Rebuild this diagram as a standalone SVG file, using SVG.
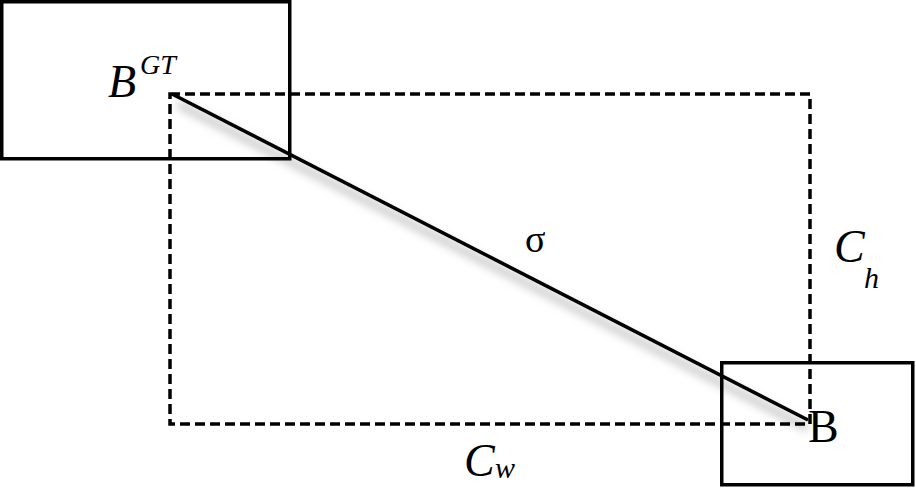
<svg xmlns="http://www.w3.org/2000/svg" width="916" height="488" viewBox="0 0 916 488">
<style>
.box{fill:none;stroke:#000;stroke-width:3.5}
.dash{fill:none;stroke:#000;stroke-width:3.5;stroke-dasharray:10 5}
.t{font-family:"Liberation Serif","DejaVu Serif",serif;fill:#000}
.i{font-style:italic}
</style>
<defs>
<filter id="sh" x="-10%" y="-20%" width="120%" height="140%">
<feGaussianBlur stdDeviation="5"/>
</filter>
</defs>
<rect width="916" height="488" fill="#fff"/>
<g id="connectors">
<line x1="178" y1="104" x2="808" y2="428" stroke="#bbb" stroke-width="6" filter="url(#sh)"/>
<rect class="dash" x="170" y="94" width="640" height="330"/>
<line x1="172" y1="94" x2="808" y2="420" stroke="#000" stroke-width="3.5"/>
</g>
<g id="bgt">
<rect class="box" x="1.75" y="1.75" width="288" height="157"/>
<text class="t i" x="108" y="97" font-size="46">B</text>
<text class="t i" x="140" y="74" font-size="28">GT</text>
</g>
<g id="b">
<rect class="box" x="721.75" y="362.75" width="191" height="122"/>
<text class="t" x="808" y="442" font-size="46">B</text>
</g>
<text class="t" x="525" y="252" font-size="38">σ</text>
<text class="t i" x="834" y="262" font-size="46">C</text>
<text class="t i" x="864" y="288" font-size="30">h</text>
<text class="t i" x="464" y="476" font-size="46">C</text>
<text class="t i" x="495" y="478" font-size="30">w</text>
</svg>
